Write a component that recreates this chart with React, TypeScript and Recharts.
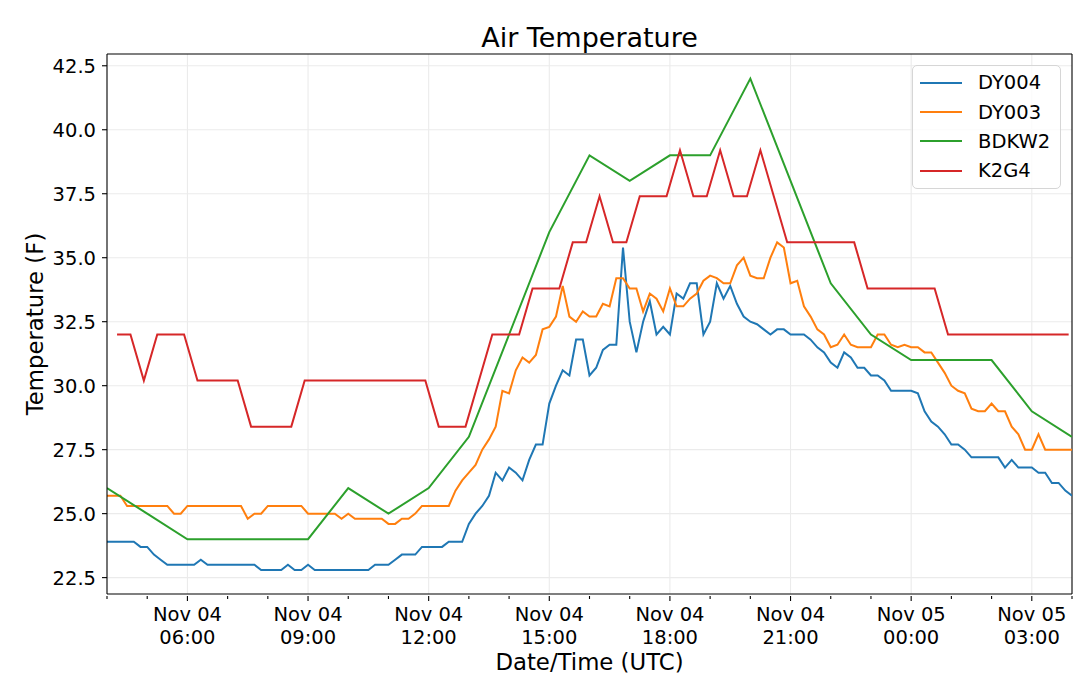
import React from "react";
import { CartesianGrid, Legend, Line, LineChart, ReferenceLine, XAxis, YAxis } from "recharts";

// time axis: hours since Nov 04 00:00 UTC
const X_DOMAIN = [4, 28];
const HOUR_TICKS = Array.from({ length: 25 }, (_, i) => 4 + i);
const MAJOR_HOURS = [6, 9, 12, 15, 18, 21, 24, 27];
const Y_DOMAIN = [21.86, 42.96];
const Y_TICKS = [22.5, 25, 27.5, 30, 32.5, 35, 37.5, 40, 42.5];
const SERIES_ORDER = ["DY004", "DY003", "BDKW2", "K2G4"];

// DY004 / DY003: every 10 min from 04:00
const DY_START = 4;
const DY_STEP = 1 / 6;
const DY004 = [
  23.9, 23.9, 23.9, 23.9, 23.9, 23.7, 23.7, 23.4, 23.2, 23.0,
  23.0, 23.0, 23.0, 23.0, 23.2, 23.0, 23.0, 23.0, 23.0, 23.0,
  23.0, 23.0, 23.0, 22.8, 22.8, 22.8, 22.8, 23.0, 22.8, 22.8,
  23.0, 22.8, 22.8, 22.8, 22.8, 22.8, 22.8, 22.8, 22.8, 22.8,
  23.0, 23.0, 23.0, 23.2, 23.4, 23.4, 23.4, 23.7, 23.7, 23.7,
  23.7, 23.9, 23.9, 23.9, 24.6, 25.0, 25.3, 25.7, 26.6, 26.3,
  26.8, 26.6, 26.3, 27.1, 27.7, 27.7, 29.3, 30.0, 30.6, 30.4,
  31.8, 31.8, 30.4, 30.7, 31.4, 31.6, 31.6, 35.4, 32.5, 31.3,
  32.5, 33.3, 32.0, 32.3, 32.0, 33.6, 33.4, 34.0, 34.0, 32.0,
  32.5, 34.0, 33.4, 33.9, 33.2, 32.7, 32.5, 32.4, 32.2, 32.0,
  32.2, 32.2, 32.0, 32.0, 32.0, 31.8, 31.5, 31.3, 30.9, 30.7,
  31.3, 31.1, 30.7, 30.7, 30.4, 30.4, 30.2, 29.8, 29.8, 29.8,
  29.8, 29.7, 29.0, 28.6, 28.4, 28.1, 27.7, 27.7, 27.5, 27.2,
  27.2, 27.2, 27.2, 27.2, 26.8, 27.1, 26.8, 26.8, 26.8, 26.6,
  26.6, 26.2, 26.2, 25.9, 25.7,
];
const DY003 = [
  25.7, 25.7, 25.7, 25.3, 25.3, 25.3, 25.3, 25.3, 25.3, 25.3,
  25.0, 25.0, 25.3, 25.3, 25.3, 25.3, 25.3, 25.3, 25.3, 25.3,
  25.3, 24.8, 25.0, 25.0, 25.3, 25.3, 25.3, 25.3, 25.3, 25.3,
  25.0, 25.0, 25.0, 25.0, 25.0, 24.8, 25.0, 24.8, 24.8, 24.8,
  24.8, 24.8, 24.6, 24.6, 24.8, 24.8, 25.0, 25.3, 25.3, 25.3,
  25.3, 25.3, 25.9, 26.3, 26.6, 26.9, 27.5, 27.9, 28.4, 29.8,
  29.7, 30.6, 31.1, 30.9, 31.2, 32.2, 32.3, 32.7, 33.9, 32.7,
  32.5, 32.9, 32.7, 32.7, 33.2, 33.1, 34.2, 34.2, 33.8, 33.8,
  32.9, 33.6, 33.4, 32.9, 33.8, 33.1, 33.1, 33.4, 33.6, 34.1,
  34.3, 34.2, 34.0, 34.0, 34.7, 35.0, 34.3, 34.2, 34.2, 35.0,
  35.6, 35.4, 34.0, 34.1, 33.1, 32.7, 32.2, 32.0, 31.5, 31.6,
  32.0, 31.6, 31.5, 31.5, 31.5, 32.0, 32.0, 31.6, 31.5, 31.6,
  31.5, 31.5, 31.3, 31.3, 30.9, 30.5, 30.0, 29.8, 29.7, 29.1,
  29.0, 29.0, 29.3, 29.0, 29.0, 28.4, 28.1, 27.5, 27.5, 28.1,
  27.5, 27.5, 27.5, 27.5, 27.5,
];

// BDKW2: hourly 04:00 .. 04:00 next day
const BDKW2_HOURS = HOUR_TICKS;
const BDKW2 = [26, 25, 24, 24, 24, 24, 26, 25, 26, 28, 32, 36, 39, 38, 39, 39, 42, 38, 34, 32, 31, 31, 31, 29, 28];

// K2G4: every 20 min from 04:15
const K2G4_START = 4.25;
const K2G4_STEP = 1 / 3;
const K2G4 = [
  32.0, 32.0, 30.2, 32.0, 32.0, 32.0, 30.2, 30.2, 30.2, 30.2,
  28.4, 28.4, 28.4, 28.4, 30.2, 30.2, 30.2, 30.2, 30.2, 30.2,
  30.2, 30.2, 30.2, 30.2, 28.4, 28.4, 28.4, 30.2, 32.0, 32.0,
  32.0, 33.8, 33.8, 33.8, 35.6, 35.6, 37.4, 35.6, 35.6, 37.4,
  37.4, 37.4, 39.2, 37.4, 37.4, 39.2, 37.4, 37.4, 39.2, 37.4,
  35.6, 35.6, 35.6, 35.6, 35.6, 35.6, 33.8, 33.8, 33.8, 33.8,
  33.8, 33.8, 32.0, 32.0, 32.0, 32.0, 32.0, 32.0, 32.0, 32.0,
  32.0, 32.0,
];

const dy004Data = DY004.map((v, i) => ({ t: DY_START + i * DY_STEP, v }));
const dy003Data = DY003.map((v, i) => ({ t: DY_START + i * DY_STEP, v }));
const bdkw2Data = BDKW2.map((v, i) => ({ t: BDKW2_HOURS[i], v }));
const k2g4Data = K2G4.map((v, i) => ({ t: K2G4_START + i * K2G4_STEP, v }));

const FONT = "'DejaVu Sans', sans-serif";
const GRID = "#ebebeb";

function XTick({ x, y, payload }: any) {
  const h = payload.value;
  const major = MAJOR_HOURS.includes(h);
  const day = h >= 24 ? "Nov 05" : "Nov 04";
  const hh = String(h % 24).padStart(2, "0") + ":00";
  return (
    <g>
      <line x1={x} x2={x} y1={y} y2={y + (major ? 5 : 3)} stroke="#000" strokeWidth={1.1} />
      {major && (
        <text x={x} y={y} textAnchor="middle" fontSize={19.5} fill="#000" fontFamily={FONT}>
          <tspan x={x} dy={24.5}>{day}</tspan>
          <tspan x={x} dy={23.5}>{hh}</tspan>
        </text>
      )}
    </g>
  );
}

function XLabel({ viewBox }: any) {
  const cx = viewBox.x + viewBox.width / 2;
  return (
    <text x={cx} y={viewBox.y + 76} textAnchor="middle" fontSize={22.8} fill="#000" fontFamily={FONT}>
      Date/Time (UTC)
    </text>
  );
}

function YLabel({ viewBox }: any) {
  const cx = viewBox.x + 43;
  const cy = viewBox.y + viewBox.height / 2;
  return (
    <text x={cx} y={cy} transform={`rotate(-90 ${cx} ${cy})`} textAnchor="middle" fontSize={22.8} fill="#000" fontFamily={FONT}>
      Temperature (F)
    </text>
  );
}

function LegendBox({ payload }: any) {
  // keep plotting order, recharts sorts by name otherwise
  const items = [...(payload || [])].sort(
    (a: any, b: any) => SERIES_ORDER.indexOf(a.value) - SERIES_ORDER.indexOf(b.value)
  );
  return (
    <div
      style={{
        boxSizing: "border-box", width: 149, height: 124, padding: "2px 0 0 7px",
        background: "rgba(255,255,255,0.8)", border: "1px solid #d6d6d6", borderRadius: 5,
        fontFamily: FONT, fontSize: 19.5, color: "#000",
      }}
    >
      {items.map((e: any) => (
        <div key={e.value} style={{ display: "flex", alignItems: "center", height: 29.4 }}>
          <span style={{ display: "inline-block", width: 42, height: 2, background: e.color, marginRight: 16 }} />
          <span>{e.value}</span>
        </div>
      ))}
    </div>
  );
}

export default function App() {
  return (
    <div style={{ position: "absolute", left: 0, top: 0, width: 1080, height: 688, background: "#fff", fontFamily: FONT }}>
      <div
        style={{
          position: "absolute", left: 107, width: 965, top: 22, lineHeight: "32px",
          textAlign: "center", fontSize: 27, color: "#000",
        }}
      >
        Air Temperature
      </div>
      <LineChart width={1080} height={688} margin={{ top: 54, right: 8, left: 0, bottom: 0 }}>
        <CartesianGrid stroke={GRID} strokeWidth={1.1} verticalValues={MAJOR_HOURS} horizontalValues={Y_TICKS} />
        <XAxis
          type="number" dataKey="t" domain={X_DOMAIN} ticks={HOUR_TICKS} interval={0}
          allowDataOverflow height={94} tickLine={false} tickSize={0} tick={<XTick />}
          axisLine={{ stroke: "#000", strokeWidth: 1.1 }} label={<XLabel />}
        />
        <YAxis
          type="number" domain={Y_DOMAIN} ticks={Y_TICKS} interval={0} allowDataOverflow width={107}
          tickFormatter={(v) => v.toFixed(1)} tickSize={5} tickMargin={6}
          tick={{ fontSize: 19.5, fill: "#000", fontFamily: FONT }}
          tickLine={{ stroke: "#000", strokeWidth: 1.1 }} axisLine={{ stroke: "#000", strokeWidth: 1.1 }}
          label={<YLabel />}
        />
        <ReferenceLine y={Y_DOMAIN[1]} stroke="#000" strokeWidth={1.1} />
        <ReferenceLine x={X_DOMAIN[1]} stroke="#000" strokeWidth={1.1} />
        <Legend
          layout="horizontal" verticalAlign="middle" align="center" content={<LegendBox />}
          wrapperStyle={{ left: 912, top: 65, width: 149, height: 124 }}
        />
        <Line data={dy004Data} dataKey="v" name="DY004" stroke="#1f77b4" strokeWidth={2} dot={false} isAnimationActive={false} />
        <Line data={dy003Data} dataKey="v" name="DY003" stroke="#ff7f0e" strokeWidth={2} dot={false} isAnimationActive={false} />
        <Line data={bdkw2Data} dataKey="v" name="BDKW2" stroke="#2ca02c" strokeWidth={2} dot={false} isAnimationActive={false} />
        <Line data={k2g4Data} dataKey="v" name="K2G4" stroke="#d62728" strokeWidth={2} dot={false} isAnimationActive={false} />
      </LineChart>
    </div>
  );
}
